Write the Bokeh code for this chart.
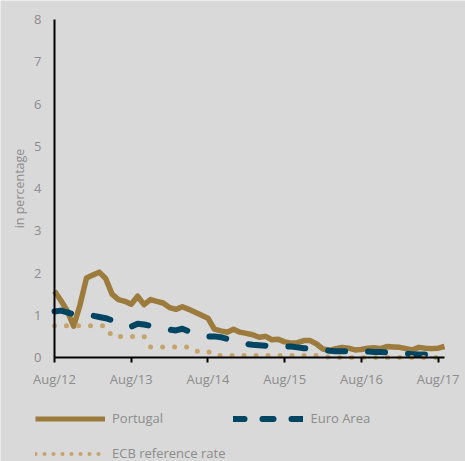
import math
from bokeh.plotting import figure
from bokeh.models import Range1d, Legend, LegendItem, FixedTicker, LinearAxis
from bokeh.embed import file_html
from bokeh.resources import INLINE

# Monthly data, Aug 2012 .. Sep 2017 (index 0 .. 61)
portugal = [1.57, 1.35, 1.10, 0.74, 1.25, 1.88, 1.95, 2.02, 1.87, 1.50,
            1.37, 1.33, 1.26, 1.45, 1.25, 1.37, 1.33, 1.29, 1.18, 1.14,
            1.20, 1.14, 1.07, 1.00, 0.93, 0.67, 0.63, 0.60, 0.67, 0.60,
            0.57, 0.54, 0.48, 0.50, 0.42, 0.43, 0.37, 0.34, 0.35, 0.40,
            0.40, 0.32, 0.20, 0.17, 0.21, 0.24, 0.22, 0.18, 0.19, 0.22,
            0.23, 0.21, 0.26, 0.25, 0.24, 0.21, 0.18, 0.24, 0.22, 0.21,
            0.22, 0.26]
euro_area = [1.09, 1.11, 1.07, 1.02, 1.00, 0.99, 0.99, 0.96, 0.93, 0.88,
             0.82, 0.76, 0.73, 0.80, 0.78, 0.75, 0.73, 0.70, 0.66, 0.64,
             0.68, 0.62, 0.57, 0.52, 0.50, 0.50, 0.48, 0.44, 0.40, 0.36,
             0.32, 0.30, 0.29, 0.28, 0.28, 0.27, 0.26, 0.26, 0.24, 0.22,
             0.21, 0.20, 0.18, 0.16, 0.15, 0.15, 0.15, 0.15, 0.15, 0.14,
             0.13, 0.13, 0.12, 0.11, 0.10, 0.09, 0.08, 0.07, 0.07, 0.08,
             0.10, 0.10]
ecb_rate = [0.75] * 9 + [0.50] * 6 + [0.25] * 7 + [0.15] * 3 + [0.05] * 18 + [0.00] * 19
months = list(range(len(portugal)))

tick_positions = [0, 12, 24, 36, 48, 60]
tick_labels = ["Aug/12", "Aug/13", "Aug/14", "Aug/15", "Aug/16", "Aug/17"]
y_ticks = list(range(0, 9))
series_names = ["Portugal", "Euro Area", "ECB reference rate"]

BG = "#d9d9d9"
TXT = "#8c8c8c"
FONT = "Open Sans"
C_PT, C_EA, C_ECB = "#9c7b3c", "#004663", "#c4a46b"

# canvas layout (pixels): plot area left 54, right 444, top 19, bottom 357
W, H = 465, 461
LEFT, RIGHT, TOP, BOTTOM = 54, 444, 19, 357
X0, X1, Y0, Y1 = 0, 61, 0, 8
xs = (RIGHT - LEFT) / (X1 - X0)
ys = (BOTTOM - TOP) / (Y1 - Y0)

p = figure(width=W, height=H, output_backend="svg", toolbar_location=None,
           x_axis_location=None, y_axis_location=None,
           x_range=Range1d(X0 - LEFT / xs, X1 + (W - RIGHT) / xs),
           y_range=Range1d(Y0 - (H - BOTTOM) / ys, Y1 + TOP / ys),
           min_border_left=0, min_border_right=0, min_border_top=0,
           min_border_bottom=0)
p.background_fill_color = BG
p.border_fill_color = BG
p.outline_line_color = None
p.xgrid.visible = False
p.ygrid.visible = False

p.line(months, portugal, line_color=C_PT, line_width=5.5, line_join="round")
p.line(months, euro_area, line_color=C_EA, line_width=6,
       line_dash="17 23", line_cap="round", line_join="round")
p.line(months, ecb_rate, line_color=C_ECB, line_width=5,
       line_dash="0 12", line_cap="round")

xaxis = LinearAxis(fixed_location=0, bounds=(X0, X1),
                   ticker=FixedTicker(ticks=tick_positions),
                   major_label_overrides={t: l for t, l in zip(tick_positions, tick_labels)})
xaxis.minor_tick_line_color = None
xaxis.major_tick_in = 0
xaxis.major_tick_out = 5
xaxis.major_tick_line_width = 2
xaxis.axis_line_width = 2
xaxis.axis_line_color = "black"
xaxis.major_tick_line_color = "black"
xaxis.major_label_standoff = 7
p.add_layout(xaxis, "below")

yaxis = LinearAxis(fixed_location=0, bounds=(Y0, Y1),
                   ticker=FixedTicker(ticks=y_ticks))
yaxis.minor_tick_line_color = None
yaxis.major_tick_in = 0
yaxis.major_tick_out = 0
yaxis.axis_line_width = 2
yaxis.axis_line_color = "black"
yaxis.major_label_standoff = 13
yaxis.axis_label = "in percentage"
yaxis.axis_label_standoff = 3
yaxis.axis_label_text_font_style = "normal"
p.add_layout(yaxis, "left")

for ax in (xaxis, yaxis):
    ax.major_label_text_font = FONT
    ax.major_label_text_font_size = "13px"
    ax.major_label_text_color = TXT
    ax.axis_label_text_font = FONT
    ax.axis_label_text_font_size = "12.5px"
    ax.axis_label_text_color = TXT

# legend samples (no data points of their own)
nan = [math.nan]
l_pt = p.line(x=nan, y=nan, line_color=C_PT, line_width=5)
l_ea = p.line(x=nan, y=nan, line_color=C_EA, line_width=6, line_dash="11 18", line_cap="round")
l_ecb = p.line(x=nan, y=nan, line_color=C_ECB, line_width=4, line_dash="0 9", line_cap="round")

legend = Legend(items=[LegendItem(label=n, renderers=[r])
                       for n, r in zip(series_names, [l_pt, l_ea, l_ecb])],
                orientation="horizontal", ncols=2, location=(35, -5.5))
legend.background_fill_alpha = 0
legend.border_line_alpha = 0
legend.glyph_width = 70
legend.glyph_height = 27
legend.label_height = 27
legend.label_standoff = 7
legend.spacing = 8
legend.padding = 0
legend.margin = 0
legend.label_text_font = FONT
legend.label_text_font_size = "13px"
legend.label_text_color = TXT
p.add_layout(legend, "center")

open("out.html", "w").write(file_html(p, INLINE))
